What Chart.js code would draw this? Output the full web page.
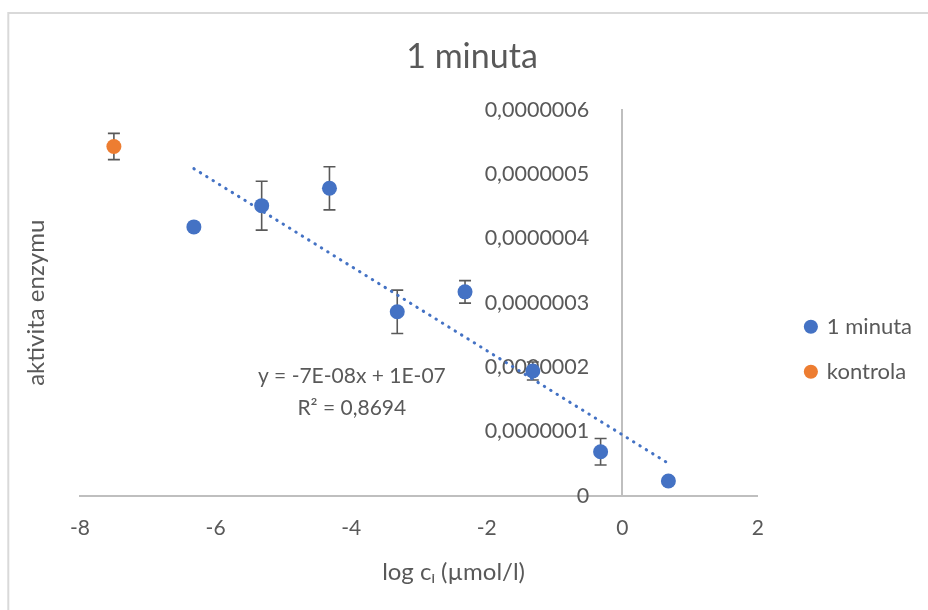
<!DOCTYPE html>
<html lang="cs">
<head>
<meta charset="UTF-8">
<title>1 minuta</title>
<script src="https://cdn.jsdelivr.net/npm/chart.js@4.4.1/dist/chart.umd.min.js"></script>
<style>
    html, body { margin: 0; padding: 0; background: #fff; }
</style>
</head>
<body>
<canvas id="myChart" width="928" height="610"></canvas>
<script>
    // data
    const logC = [-6.32, -5.32, -4.32, -3.32, -2.32, -1.32, -0.32, 0.68];
    const aktivita = [4.18e-7, 4.51e-7, 4.78e-7, 2.86e-7, 3.17e-7, 1.94e-7, 0.685e-7, 0.23e-7];
    const aktivitaErr = [0, 0.38e-7, 0.335e-7, 0.337e-7, 0.175e-7, 0.14e-7, 0.206e-7, 0.05e-7];
    const kontrolaX = [-7.5];
    const kontrolaY = [5.43e-7];
    const kontrolaErr = [0.204e-7];
    const xTicks = [-8, -6, -4, -2, 0, 2];
    const yTicks = [0, 1e-7, 2e-7, 3e-7, 4e-7, 5e-7, 6e-7];
    const trendText = ['y = -7E-08x + 1E-07', 'R² = 0,8694'];

    const FONT = "Lato, 'DejaVu Sans', sans-serif";
    const GREY = '#595959';
    const AXIS = '#bfbfbf';

    function toPoints(xs, ys) {
        return xs.map((x, i) => ({x: x, y: ys[i]}));
    }

    // linear trendline (least squares), like Excel does it
    function trend(xs, ys) {
        const n = xs.length;
        const mx = xs.reduce((a, b) => a + b, 0) / n;
        const my = ys.reduce((a, b) => a + b, 0) / n;
        let sxy = 0, sxx = 0;
        for (let i = 0; i < n; i++) {
            sxy += (xs[i] - mx) * (ys[i] - my);
            sxx += (xs[i] - mx) * (xs[i] - mx);
        }
        const k = sxy / sxx;
        const q = my - k * mx;
        const x0 = Math.min(...xs), x1 = Math.max(...xs);
        return [{x: x0, y: k * x0 + q}, {x: x1, y: k * x1 + q}];
    }

    const errorBars = {
        id: 'errorBars',
        beforeDatasetsDraw(chart) {
            const ctx = chart.ctx;
            const xs = chart.scales.x, ys = chart.scales.y;
            ctx.save();
            ctx.strokeStyle = GREY;
            ctx.lineWidth = 1.6;
            chart.data.datasets.forEach(ds => {
                if (!ds.yErr) return;
                ds.data.forEach((p, i) => {
                    const e = ds.yErr[i];
                    if (!e) return;
                    const px = xs.getPixelForValue(p.x);
                    const top = ys.getPixelForValue(p.y + e);
                    const bot = ys.getPixelForValue(p.y - e);
                    ctx.beginPath();
                    ctx.moveTo(px, top); ctx.lineTo(px, bot);
                    ctx.moveTo(px - 6, top); ctx.lineTo(px + 6, top);
                    ctx.moveTo(px - 6, bot); ctx.lineTo(px + 6, bot);
                    ctx.stroke();
                });
            });
            ctx.restore();
        },
        afterDraw(chart) {
            // trendline equation
            const ctx = chart.ctx;
            const xs = chart.scales.x, ys = chart.scales.y;
            ctx.save();
            ctx.fillStyle = GREY;
            ctx.font = '21px ' + FONT;
            ctx.textAlign = 'center';
            ctx.textBaseline = 'middle';
            ctx.fillText(trendText[0], xs.getPixelForValue(-3.99), ys.getPixelForValue(1.864e-7));
            ctx.fillText(trendText[1], xs.getPixelForValue(-3.99), ys.getPixelForValue(1.363e-7));
            ctx.restore();
        }
    };

    const frame = {
        id: 'frame',
        beforeDraw(chart) {
            const ctx = chart.ctx;
            ctx.save();
            ctx.strokeStyle = '#d9d9d9';
            ctx.lineWidth = 2;
            ctx.strokeRect(8.3, 13, 960, 640);
            ctx.restore();
        }
    };

    const chartArea = document.getElementById('myChart').getContext('2d');
    const myChart = new Chart(chartArea, {
        type: 'scatter',
        data: {
            datasets: [{
                label: 'trend',
                data: trend(logC, aktivita),
                showLine: true,
                borderColor: '#4472C4',
                borderWidth: 3,
                borderDash: [0.5, 7],
                borderCapStyle: 'round',
                pointRadius: 0,
                fill: false,
                order: 0,
                yAxisID: 'y'
            }, {
                label: '1 minuta',
                data: toPoints(logC, aktivita),
                yErr: aktivitaErr,
                backgroundColor: '#4472C4',
                borderColor: '#4472C4',
                borderWidth: 0,
                pointRadius: 7.5,
                pointHoverRadius: 7.5,
                order: 1,
                yAxisID: 'y'
            }, {
                label: 'kontrola',
                data: toPoints(kontrolaX, kontrolaY),
                yErr: kontrolaErr,
                backgroundColor: '#ED7D31',
                borderColor: '#ED7D31',
                borderWidth: 0,
                pointRadius: 7.5,
                pointHoverRadius: 7.5,
                order: 2,
                yAxisID: 'y'
            }]
        },
        options: {
            responsive: false,
            animation: false,
            devicePixelRatio: 1,
            layout: { padding: { left: 22, right: 6, top: 14, bottom: 10 } },
            scales: {
                x: {
                    type: 'linear',
                    position: 'bottom',
                    min: -8, max: 2,
                    afterBuildTicks: s => { s.ticks = xTicks.map(v => ({value: v})); },
                    grid: { display: false },
                    border: { color: AXIS, width: 2 },
                    ticks: {
                        color: GREY,
                        font: { family: FONT, size: 21 },
                        padding: 12,
                        callback: v => String(v)
                    }
                },
                y: {
                    type: 'linear',
                    position: { x: 0 },
                    min: 0, max: 6e-7,
                    z: 1,
                    afterBuildTicks: s => { s.ticks = yTicks.map(v => ({value: v})); },
                    grid: { display: false },
                    border: { color: AXIS, width: 2 },
                    ticks: {
                        color: GREY,
                        font: { family: FONT, size: 21.5 },
                        // labels of an axis placed at x = 0 get no padding, so keep a gap with spaces
                        callback: v => (v === 0 ? '0' : v.toFixed(7).replace('.', ',')) + '      '
                    }
                },
                yTitle: {
                    type: 'linear',
                    position: 'left',
                    min: 0, max: 1,
                    grid: { display: false },
                    border: { display: false },
                    ticks: { display: false },
                    title: {
                        display: true,
                        text: 'aktivita enzymu',
                        color: GREY,
                        font: { family: FONT, size: 24 },
                        padding: { top: 0, bottom: 0 }
                    },
                    afterFit: s => { s.width = 58; }
                },
                yPad: {
                    type: 'linear',
                    position: 'right',
                    min: 0, max: 1,
                    display: true,
                    grid: { display: false },
                    border: { display: false },
                    ticks: { display: false },
                    afterFit: s => { s.width = 25; }
                }
            },
            plugins: {
                title: {
                    display: true,
                    text: '1 minuta',
                    color: GREY,
                    font: { family: FONT, size: 34, weight: 'normal' },
                    padding: { top: 23, bottom: 32 }
                },
                subtitle: {
                    display: true,
                    position: 'bottom',
                    // trailing spaces nudge the centred text a little to the left
                    text: 'log cᵢ (µmol/l)      ',
                    color: GREY,
                    font: { family: FONT, size: 24, weight: 'normal', lineHeight: 1 },
                    padding: { top: 7, bottom: 16 }
                },
                legend: {
                    position: 'right',
                    maxWidth: 220,
                    title: { display: true, text: '', padding: { top: 70, bottom: 0 } },
                    labels: {
                        usePointStyle: true,
                        pointStyle: 'circle',
                        boxWidth: 10,
                        boxHeight: 10,
                        padding: 23,
                        color: GREY,
                        font: { family: FONT, size: 22 },
                        filter: item => item.text !== 'trend'
                    }
                },
                tooltip: { enabled: false }
            }
        },
        plugins: [frame, errorBars]
    });
</script>
</body>
</html>
